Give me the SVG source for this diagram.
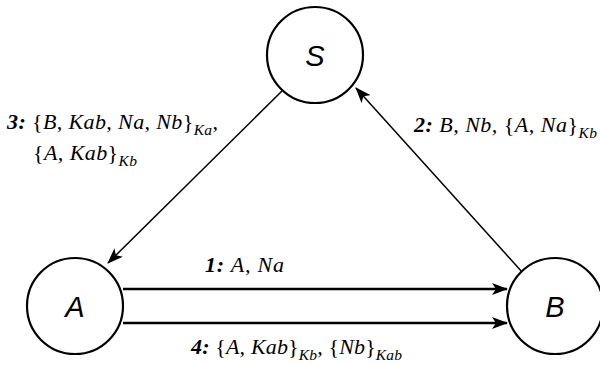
<svg xmlns="http://www.w3.org/2000/svg" width="600" height="365" viewBox="0 0 600 365">
<style>
.node{fill:#fff;stroke:#000;stroke-width:2.2}
.nl{font-family:"Liberation Sans",Arial,sans-serif;font-style:italic;font-size:29px;text-anchor:middle;fill:#000}
.edge{stroke:#000;fill:none}
.lab{font-family:"Liberation Serif","Times New Roman",serif;font-style:italic;font-size:22px;fill:#000}
.num{font-weight:bold}
.up{font-style:normal}
.sub{font-size:15.5px}
</style>
<defs>
<marker id="ah" viewBox="0 0 16 12" refX="15" refY="6" markerWidth="16" markerHeight="12" markerUnits="userSpaceOnUse" orient="auto">
<path d="M0,0 L16,6 L0,12 L4,6 Z" fill="#000"/>
</marker>
</defs>
<g id="connectors">
<line class="edge" x1="123" y1="289" x2="507" y2="289" stroke-width="2.6" marker-end="url(#ah)"/>
<line class="edge" x1="123" y1="323" x2="507" y2="323" stroke-width="2.6" marker-end="url(#ah)"/>
<line class="edge" x1="282" y1="91" x2="108" y2="263" stroke-width="1.5" marker-end="url(#ah)"/>
<line class="edge" x1="523" y1="273" x2="356" y2="88" stroke-width="1.5" marker-end="url(#ah)"/>
</g>
<g id="S"><circle class="node" cx="315" cy="55" r="48"/><text class="nl" x="315" y="66">S</text></g>
<g id="A"><circle class="node" cx="75" cy="306" r="48"/><text class="nl" x="75" y="317">A</text></g>
<g id="B"><circle class="node" cx="555" cy="306" r="48"/><text class="nl" x="555" y="317">B</text></g>
<g id="labels">
<text class="lab" x="7" y="129" textLength="211"><tspan class="num">3:</tspan> <tspan class="up">{</tspan>B, Kab, Na, Nb<tspan class="up">}</tspan><tspan class="sub" dy="6">Ka</tspan><tspan dy="-6">,</tspan></text>
<text class="lab" x="33" y="160" textLength="104"><tspan class="up">{</tspan>A, Kab<tspan class="up">}</tspan><tspan class="sub" dy="6">Kb</tspan></text>
<text class="lab" x="414" y="132" textLength="183"><tspan class="num">2:</tspan> B, Nb, <tspan class="up">{</tspan>A, Na<tspan class="up">}</tspan><tspan class="sub" dy="6">Kb</tspan></text>
<text class="lab" x="205" y="272" textLength="79"><tspan class="num">1:</tspan> A, Na</text>
<text class="lab" x="191" y="354" textLength="211"><tspan class="num">4:</tspan> <tspan class="up">{</tspan>A, Kab<tspan class="up">}</tspan><tspan class="sub" dy="6">Kb</tspan><tspan dy="-6">, </tspan><tspan class="up">{</tspan>Nb<tspan class="up">}</tspan><tspan class="sub" dy="6">Kab</tspan></text>
</g>
</svg>
